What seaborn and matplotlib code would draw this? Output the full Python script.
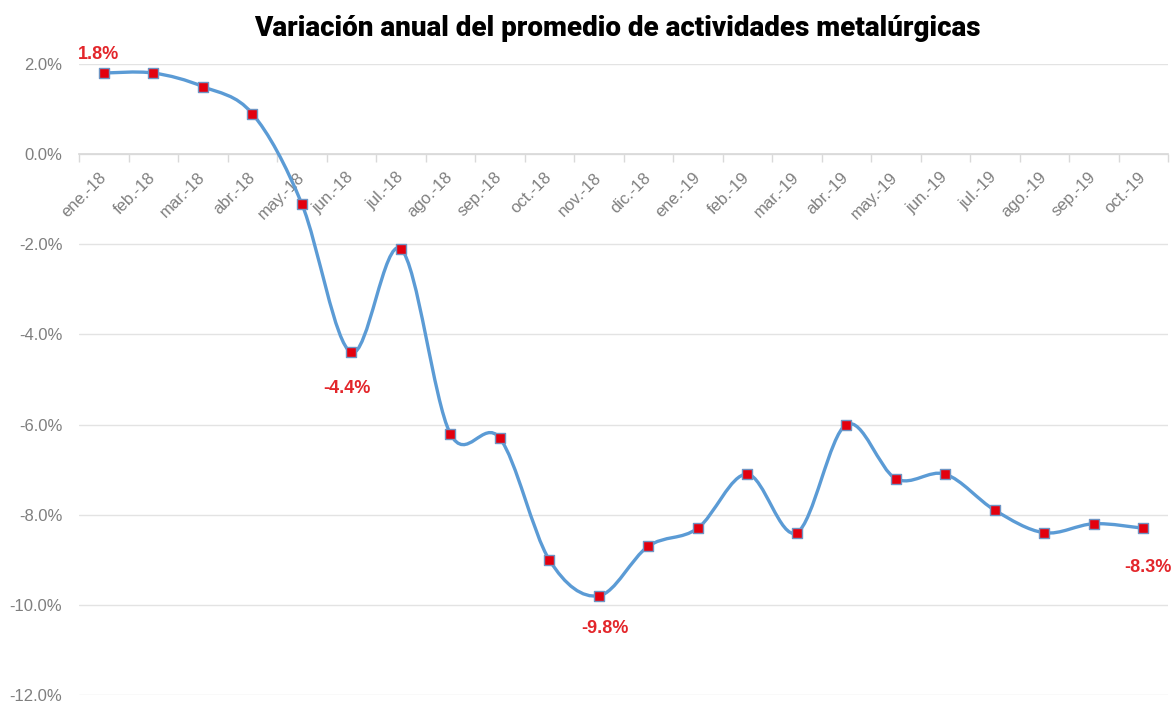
import numpy as np
import pandas as pd
import seaborn as sns
import matplotlib.pyplot as plt
from matplotlib.path import Path
from matplotlib.patches import PathPatch
from matplotlib.ticker import FuncFormatter

meses = ["ene.-18", "feb.-18", "mar.-18", "abr.-18", "may.-18", "jun.-18",
         "jul.-18", "ago.-18", "sep.-18", "oct.-18", "nov.-18", "dic.-18",
         "ene.-19", "feb.-19", "mar.-19", "abr.-19", "may.-19", "jun.-19",
         "jul.-19", "ago.-19", "sep.-19", "oct.-19"]
variacion = [1.8, 1.8, 1.5, 0.9, -1.1, -4.4, -2.1, -6.2, -6.3, -9.0, -9.8,
             -8.7, -8.3, -7.1, -8.4, -6.0, -7.2, -7.1, -7.9, -8.4, -8.2, -8.3]
destacados = [0, 5, 10, 21]
yticks = [2, 0, -2, -4, -6, -8, -10, -12]

df = pd.DataFrame({"mes": meses, "pos": np.arange(len(meses)), "valor": variacion})

sns.set_theme(style="white")
plt.rcParams["font.family"] = ["Liberation Sans", "DejaVu Sans"]

fig = plt.figure(figsize=(11.73, 7.08), dpi=100)
ax = fig.add_axes([79 / 1173, 13 / 708, 1089 / 1173, 631 / 708])

# smoothed line (excel-like bezier through the points)
pts = df[["pos", "valor"]].to_numpy(dtype=float)
ext = np.vstack([pts[0], pts, pts[-1]])
verts = [tuple(pts[0])]
codes = [Path.MOVETO]
for i in range(len(pts) - 1):
    p0, p1, p2, p3 = ext[i], ext[i + 1], ext[i + 2], ext[i + 3]
    c1 = p1 + (p2 - p0) / 6
    c2 = p2 - (p3 - p1) / 6
    verts += [tuple(c1), tuple(c2), tuple(p2)]
    codes += [Path.CURVE4] * 3
ax.add_patch(PathPatch(Path(verts, codes), facecolor="none",
                       edgecolor="#5b9bd5", lw=2.4, zorder=3))

sns.scatterplot(data=df, x="pos", y="valor", marker="s", s=42,
                color="#e3000f", edgecolor="#6f95c4", linewidth=1,
                zorder=4, ax=ax, legend=False)

offs = {0: (-5, 19), 5: (-4, -36), 10: (6, -33), 21: (5, -39)}
for i in destacados:
    ax.annotate(f"{variacion[i]:.1f}%", (i, variacion[i]),
                xytext=(offs[i][0] * 0.72, offs[i][1] * 0.72),
                textcoords="offset points", ha="center", va="center",
                color="#e3262b", fontsize=13, fontweight="bold")

ax.set_xlim(-0.5, len(meses) - 0.5)
ax.set_ylim(-12, 2)
ax.set_yticks(yticks)
ax.yaxis.set_major_formatter(FuncFormatter(lambda v, p: f"{v:.1f}%"))
ax.grid(axis="y", color="#e3e3e3", lw=1)
ax.grid(axis="x", visible=False)

for s in ["top", "right", "left"]:
    ax.spines[s].set_visible(False)
ax.spines["bottom"].set_position(("data", 0))
ax.spines["bottom"].set_color("#d9d9d9")
ax.spines["bottom"].set_zorder(2)

ax.set_xticks(df["pos"])
ax.set_xticklabels(meses, rotation=45, ha="right", va="center",
                   rotation_mode="anchor")
ax.set_xticks(np.arange(-0.5, len(meses), 1), minor=True)
ax.tick_params(axis="x", which="major", length=0, pad=15,
               labelsize=12, labelcolor="#7f7f7f")
ax.tick_params(axis="x", which="minor", length=6, color="#d9d9d9",
               direction="out", bottom=True)
ax.tick_params(axis="y", length=0, pad=12, labelsize=12,
               labelcolor="#7f7f7f")
ax.set_xlabel("")
ax.set_ylabel("")

fig.text(617 / 1173, 1 - 28 / 708,
         "Variación anual del promedio de actividades metalúrgicas",
         ha="center", va="center", fontsize=20, fontweight="heavy",
         family=["Roboto", "DejaVu Sans"], color="black")

fig.savefig("out.png", dpi=100)
